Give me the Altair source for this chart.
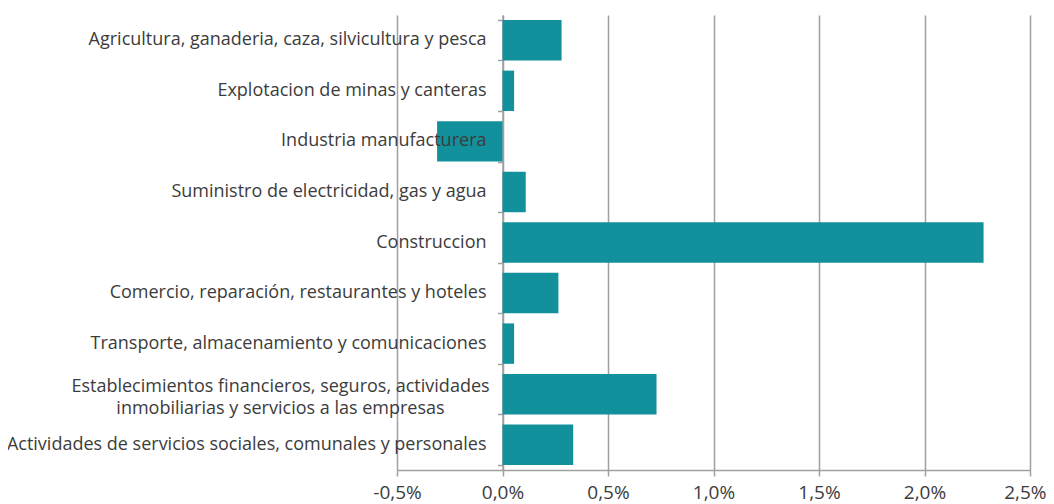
import altair as alt
import pandas as pd

sectores = [
    "Agricultura, ganaderia, caza, silvicultura y pesca",
    "Explotacion de minas y canteras",
    "Industria manufacturera",
    "Suministro de electricidad, gas y agua",
    "Construccion",
    "Comercio, reparación, restaurantes y hoteles",
    "Transporte, almacenamiento y comunicaciones",
    "Establecimientos financieros, seguros, actividades\ninmobiliarias y servicios a las empresas",
    "Actividades de servicios sociales, comunales y personales",
]
valores = [0.28, 0.055, -0.31, 0.11, 2.28, 0.265, 0.055, 0.73, 0.335]
ticks_x = [-0.5, 0.0, 0.5, 1.0, 1.5, 2.0, 2.5]

df = pd.DataFrame({"sector": sectores, "valor": valores, "idx": range(len(sectores))})

W, H = 633, 455
zero_px = W * 0.5 / 3.0

label_color = "#3c3c3c"
grid_color = "#a0a0a0"
font = "Open Sans"

y_enc = alt.Y(
    "sector:N",
    sort=sectores,
    scale=alt.Scale(paddingInner=0.2, paddingOuter=0.1),
    axis=alt.Axis(
        title=None,
        offset=-zero_px,
        grid=False,
        labels=False,
        tickBand="extent",
        domainColor=grid_color,
        domainWidth=1.5,
        tickColor=grid_color,
        tickWidth=1.5,
        tickSize=5,
    ),
)

base = alt.Chart(df)

last_test = "datum.value >= 2.5"

bars = base.mark_bar(color="#12909B").encode(
    x=alt.X(
        "valor:Q",
        scale=alt.Scale(domain=[-0.5, 2.5], nice=False, zero=False),
        axis=alt.Axis(
            values=ticks_x,
            title=None,
            grid=True,
            gridColor=grid_color,
            gridWidth=1.5,
            domainColor=grid_color,
            domainWidth=1.5,
            tickColor=grid_color,
            tickWidth=1.5,
            tickSize=6,
            labelFont=font,
            labelFontSize=19,
            labelColor=label_color,
            labelPadding=7,
            labelFlush=False,
            labelOverlap=False,
            labelAlign={"condition": {"test": last_test, "value": "right"}, "value": "center"},
            labelOffset={"condition": {"test": last_test, "value": 16}, "value": 0},
            labelExpr="(datum.value < 0 ? '-' : '') + replace(format(abs(datum.value), '.1f'), '.', ',') + '%'",
        ),
    ),
    y=y_enc,
)

labels_one = base.transform_filter("datum.idx != 7").mark_text(
    align="right", baseline="middle", dx=-16, font=font, fontSize=18, color=label_color
).encode(x=alt.value(zero_px), y=alt.Y("sector:N", sort=sectores), text="sector:N")

labels_two = base.transform_filter("datum.idx == 7").mark_text(
    align="center", baseline="middle", dx=-222, dy=-7, font=font, fontSize=18,
    color=label_color, lineBreak="\n", lineHeight=22,
).encode(x=alt.value(zero_px), y=alt.Y("sector:N", sort=sectores), text="sector:N")

chart = alt.layer(bars, labels_one, labels_two).properties(
    width=W,
    height=H,
    autosize=alt.AutoSizeParams(type="none"),
    padding={"left": 389, "top": 7, "right": 16, "bottom": 34},
).configure_view(stroke=None)

chart.save("out.html", embed_options={"renderer": "svg", "actions": False})
